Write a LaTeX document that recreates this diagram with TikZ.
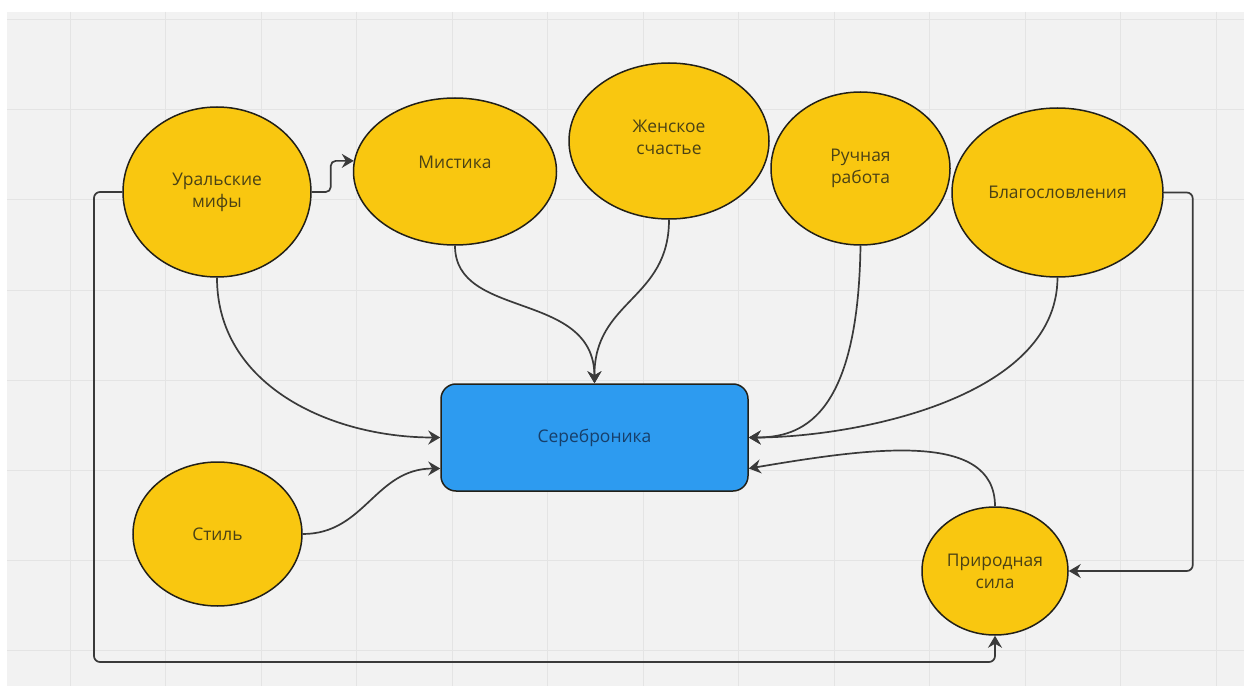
\documentclass[tikz,border=0pt]{standalone}
\usepackage{fontspec}
\setmainfont{Open Sans}
\usetikzlibrary{arrows.meta,shapes.geometric,calc}
\definecolor{bgc}{HTML}{F2F2F2}
\definecolor{gridc}{HTML}{E4E4E4}
\definecolor{yel}{HTML}{F9C710}
\definecolor{blu}{HTML}{2D9BF0}
\definecolor{edgec}{HTML}{222018}
\definecolor{linec}{HTML}{3A3A3A}
\definecolor{ytext}{HTML}{4B4215}
\definecolor{btext}{HTML}{173F6A}
\tikzset{
  bub/.style={ellipse, draw=edgec, fill=yel, line width=1.5bp, inner sep=0pt,
    text=ytext, align=center, font=\fontsize{17.5}{22}\selectfont},
  core/.style={rectangle, rounded corners=15bp, draw=edgec, fill=blu, line width=1.5bp,
    inner sep=0pt, text=btext, align=center, font=\fontsize{17.5}{22}\selectfont,
    minimum width=307bp, minimum height=107bp},
  lbl/.style={text=ytext, align=center, font=\fontsize{17.5}{22}\selectfont},
  conn/.style={draw=linec, line width=1.7bp,
    -{Stealth[length=12bp,width=14bp,inset=4bp]}},
}
\begin{document}
\begin{tikzpicture}[x=1bp,y=-1bp]
\useasboundingbox (0,0) rectangle (1244,686);
\fill[white] (0,0) rectangle (1244,686);
\fill[bgc] (7,12) rectangle (1244,686);
\foreach \gx in {70,165.5,261,356.5,452,547.5,643,738.5,834,929.5,1025,1120.5,1216}
  \draw[gridc, line width=1bp] (\gx,12) -- (\gx,686);
\foreach \gy in {20,110,200,290,380,470,560,650}
  \draw[gridc, line width=1bp] (7,\gy) -- (1244,\gy);

\node[bub, minimum width=188bp, minimum height=170bp] (u) at (217,192) {Уральские\\мифы};
\node[bub, minimum width=203bp, minimum height=147bp,
  label={[lbl,yshift=9bp]center:Мистика}] (m) at (455,171.5) {};
\node[bub, minimum width=200bp, minimum height=156bp,
  label={[lbl,yshift=4bp]center:Женское\\счастье}] (z) at (669,141) {};
\node[bub, minimum width=179bp, minimum height=153bp] (r) at (860.5,168.5) {Ручная\\работа};
\node[bub, minimum width=211bp, minimum height=169bp] (b) at (1057.5,192.5) {Благословления};
\node[bub, minimum width=169bp, minimum height=144bp] (st) at (217.5,534) {Стиль};
\node[bub, minimum width=146bp, minimum height=128bp] (p) at (995,571) {Природная\\сила};
\node[core] (s) at (594.5,437.5) {Сереброника};

\coordinate (lowleft) at (94,662);

% Uralskie mify -> Mistika
\draw[conn, rounded corners=5bp] (u.east) -- ++(19,0) |- (m.174);
% curves into the core
\draw[conn] (u.south) .. controls (217,385) and (330,437.5) .. (s.west);
\draw[conn] (m.south) .. controls (455,320) and (594,290) .. (s.north);
\draw[conn] (z.south) .. controls (669,300) and (594,300) .. (s.north);
\draw[conn] (r.south) .. controls (858,420) and (800,437.5) .. (s.east);
\draw[conn] (b.south) .. controls (1057,400) and (850,437.5) .. (s.east);
\draw[conn] (st.east) .. controls (365,534) and (375,468.5) .. ([yshift=-31bp]s.west);
\draw[conn] (p.north) .. controls (995,430) and (870,448) .. ([yshift=-31bp]s.east);
% orthogonal connectors
\draw[conn, rounded corners=6bp] (b.east) -- ++(29,0) |- (p.east);
\draw[conn, rounded corners=6bp] (u.west) -| (lowleft) -| (p.south);
\end{tikzpicture}
\end{document}
